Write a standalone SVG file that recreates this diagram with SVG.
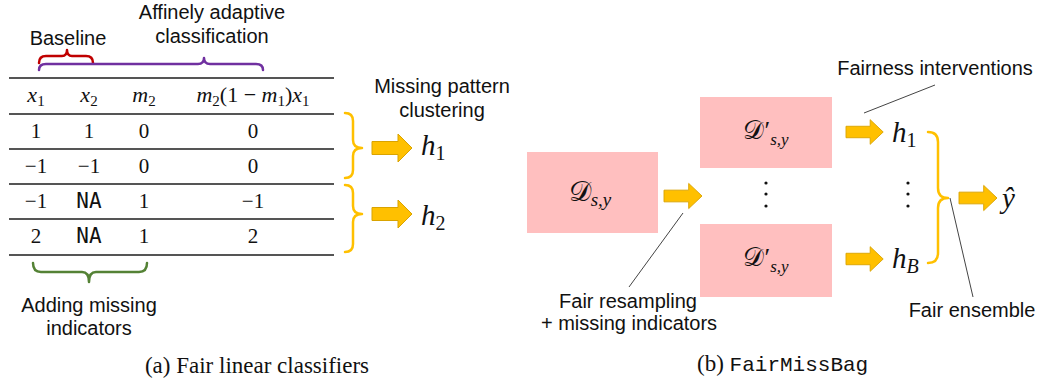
<svg xmlns="http://www.w3.org/2000/svg" xmlns:xlink="http://www.w3.org/1999/xlink" width="1037" height="383" viewBox="0 0 1037 383">
<style>
.sans{font-family:"Liberation Sans",Arial,sans-serif;font-size:20px;fill:#111}
.math{font-family:"Liberation Serif","Times New Roman",serif;fill:#111}
.it{font-style:italic}
.num{font-family:"Liberation Serif","Times New Roman",serif;font-size:21px;fill:#111;text-anchor:middle}
.mono{font-family:"Liberation Mono","Courier New",monospace}
.tt{font-family:"DejaVu Sans Mono","Liberation Mono",monospace}
.rule{stroke:#555;stroke-width:2}
.box{fill:#FFBFBF}
.arrow{fill:#FFC000;stroke:#D9A300;stroke-width:1}
.brace{fill:none;stroke-width:2.5;stroke-linecap:round;stroke-linejoin:round}
.lead{stroke:#444;stroke-width:1;fill:none}
.cap{font-family:"Liberation Serif","Times New Roman",serif;font-size:23px;fill:#111}
</style>
<defs>
<path id="barrow" d="M0,-6.5 H26 V-14 L40,0 L26,14 V6.5 H0 Z"/>
</defs>

<g id="table">
<line class="rule" x1="9" y1="78" x2="334" y2="78"/>
<line class="rule" x1="9" y1="114" x2="334" y2="114"/>
<line class="rule" x1="9" y1="149" x2="334" y2="149"/>
<line class="rule" x1="9" y1="184" x2="334" y2="184"/>
<line class="rule" x1="9" y1="219" x2="334" y2="219"/>
<line class="rule" x1="9" y1="255" x2="334" y2="255"/>
<g class="math" font-size="22" text-anchor="middle">
<text x="36" y="102"><tspan class="it">x</tspan><tspan font-size="15" dy="4">1</tspan></text>
<text x="89" y="102"><tspan class="it">x</tspan><tspan font-size="15" dy="4">2</tspan></text>
<text x="144" y="102"><tspan class="it">m</tspan><tspan font-size="15" dy="4">2</tspan></text>
<text x="253" y="102"><tspan class="it">m</tspan><tspan font-size="15" dy="4">2</tspan><tspan dy="-4">(1 − </tspan><tspan class="it">m</tspan><tspan font-size="15" dy="4">1</tspan><tspan dy="-4">)</tspan><tspan class="it">x</tspan><tspan font-size="15" dy="4">1</tspan></text>
</g>
<g>
<text class="num" x="36" y="138">1</text><text class="num" x="89" y="138">1</text><text class="num" x="144" y="138">0</text><text class="num" x="253" y="138">0</text>
<text class="num" x="36" y="173">−1</text><text class="num" x="89" y="173">−1</text><text class="num" x="144" y="173">0</text><text class="num" x="253" y="173">0</text>
<text class="num" x="36" y="208">−1</text><text class="num tt" x="89" y="208" font-size="17">NA</text><text class="num" x="144" y="208">1</text><text class="num" x="253" y="208">−1</text>
<text class="num" x="36" y="243">2</text><text class="num tt" x="89" y="243" font-size="17">NA</text><text class="num" x="144" y="243">1</text><text class="num" x="253" y="243">2</text>
</g>
</g>

<g id="baseline-label">
<text class="sans" x="68" y="45" text-anchor="middle">Baseline</text>
<path class="brace" stroke="#C00000" d="M39,63 Q39,56 46,56 H62 Q67,56 67,50 Q67,56 72,56 H86 Q93,56 93,63"/>
</g>
<g id="affine-label">
<text class="sans" x="212" y="19" text-anchor="middle">Affinely adaptive</text>
<text class="sans" x="212" y="43" text-anchor="middle">classification</text>
<path class="brace" stroke="#7030A0" d="M39,70 Q39,64 46,64 H198 Q204,64 204,58 Q204,64 210,64 H256 Q263,64 263,70"/>
</g>
<g id="indicator-label">
<path class="brace" stroke="#548235" d="M33,263 Q33,272 41,272 H82 Q89,272 89,282 Q89,272 96,272 H139 Q147,272 147,263"/>
<text class="sans" x="89" y="312" text-anchor="middle">Adding missing</text>
<text class="sans" x="89" y="335" text-anchor="middle">indicators</text>
</g>

<g id="clustering">
<text class="sans" x="442" y="93" text-anchor="middle">Missing pattern</text>
<text class="sans" x="442" y="117" text-anchor="middle">clustering</text>
<path class="brace" stroke="#FFC000" d="M345,113 Q353,113 353,121 V140 Q353,148 362,148 Q353,148 353,156 V170 Q353,178 345,178"/>
<path class="brace" stroke="#FFC000" d="M345,185 Q353,185 353,193 V206 Q353,214 362,214 Q353,214 353,222 V244 Q353,252 345,252"/>
</g>
<g id="h1-left">
<use xlink:href="#barrow" class="arrow" transform="translate(372,148)"/>
<text class="math it" x="421" y="155" font-size="29">h<tspan font-size="20" dy="5" font-style="normal">1</tspan></text>
</g>
<g id="h2-left">
<use xlink:href="#barrow" class="arrow" transform="translate(372,214)"/>
<text class="math it" x="421" y="225" font-size="29">h<tspan font-size="20" dy="5" font-style="normal">2</tspan></text>
</g>
<text class="cap" x="257" y="373" text-anchor="middle">(a) Fair linear classifiers</text>

<g id="D">
<rect class="box" x="527" y="152" width="131" height="81"/>
<text class="math" x="590" y="201" font-size="28" text-anchor="middle"><tspan>𝒟</tspan><tspan class="it" font-size="19" dy="5">s,y</tspan></text>
</g>
<g id="D1">
<rect class="box" x="700" y="97" width="132" height="71"/>
<text class="math" x="766" y="139" font-size="26" text-anchor="middle">𝒟′<tspan class="it" font-size="17" dy="6">s,y</tspan></text>
</g>
<g id="dots-mid" fill="#111">
<circle cx="766" cy="183" r="1.6"/><circle cx="766" cy="194" r="1.6"/><circle cx="766" cy="206" r="1.6"/>
</g>
<g id="DB">
<rect class="box" x="700" y="224" width="132" height="73"/>
<text class="math" x="766" y="266" font-size="26" text-anchor="middle">𝒟′<tspan class="it" font-size="17" dy="6">s,y</tspan></text>
</g>
<g id="h1-right">
<text class="math it" x="892" y="142" font-size="29">h<tspan font-size="20" dy="5" font-style="normal">1</tspan></text>
</g>
<g id="dots-right" fill="#111">
<circle cx="908" cy="183" r="1.6"/><circle cx="908" cy="194" r="1.6"/><circle cx="908" cy="206" r="1.6"/>
</g>
<g id="hB">
<text class="math it" x="892" y="268" font-size="29">h<tspan font-size="20" dy="5">B</tspan></text>
</g>
<g id="yhat">
<text class="math it" x="1002" y="208" font-size="29">ŷ</text>
</g>
<g id="ensemble-brace">
<path class="brace" stroke="#FFC000" d="M928,132 Q938,132 938,142 V188 Q938,198 948,198 Q938,198 938,208 V253 Q938,263 928,263"/>
</g>

<g id="labels-right">
<text class="sans" x="628" y="308" text-anchor="middle">Fair resampling</text>
<text class="sans" x="629" y="330" text-anchor="middle">+ missing indicators</text>
<text class="sans" x="935" y="75" text-anchor="middle">Fairness interventions</text>
<text class="sans" x="972" y="317" text-anchor="middle">Fair ensemble</text>
</g>

<g id="connectors">
<use xlink:href="#barrow" class="arrow" transform="translate(664,196) scale(0.95,0.9)"/>
<use xlink:href="#barrow" class="arrow" transform="translate(846,132) scale(0.93,0.88)"/>
<use xlink:href="#barrow" class="arrow" transform="translate(846,259) scale(0.93,0.88)"/>
<use xlink:href="#barrow" class="arrow" transform="translate(959,198) scale(0.95,0.9)"/>
<line class="lead" x1="683" y1="213" x2="629" y2="287"/>
<line class="lead" x1="935" y1="85" x2="864" y2="113"/>
<line class="lead" x1="950" y1="198" x2="973" y2="297"/>
</g>

<text class="cap" x="697" y="371">(b) <tspan class="mono" font-size="21">FairMissBag</tspan></text>
</svg>
